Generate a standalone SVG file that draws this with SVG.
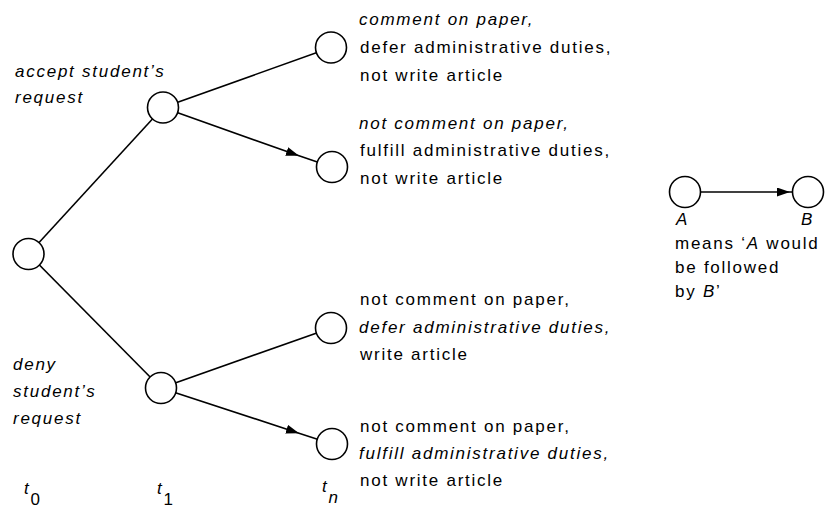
<svg xmlns="http://www.w3.org/2000/svg" width="829" height="511" viewBox="0 0 829 511">
<style>
.n{fill:#fff;stroke:#000;stroke-width:1.6}
.c{fill:none;stroke:#000;stroke-width:1.6}
text{font-family:"Liberation Sans",Arial,sans-serif;font-size:17px;letter-spacing:1.75px;fill:#000}
.i{font-style:italic}
</style>
<defs>
<marker id="ah" markerUnits="userSpaceOnUse" markerWidth="15" markerHeight="10" refX="13" refY="4.5" orient="auto">
<path d="M0,0 L13,4.5 L0,9 z" fill="#000"/>
</marker>
</defs>
<rect width="829" height="511" fill="#fff"/>
<g id="connectors">
<line class="c" x1="28.5" y1="254" x2="163" y2="107.5"/>
<line class="c" x1="28.5" y1="254" x2="161" y2="388"/>
<line class="c" x1="163" y1="107.5" x2="331" y2="47.5"/>
<path class="c" d="M163,107.5 L299,155.8 L332,167" marker-mid="url(#ah)"/>
<line class="c" x1="161" y1="388" x2="331" y2="328"/>
<path class="c" d="M161,388 L299,433.2 L332,444" marker-mid="url(#ah)"/>
<path class="c" d="M685,192 L790,192 L808,192" marker-mid="url(#ah)"/>
</g>
<g id="t0-node"><circle class="n" cx="28.5" cy="254" r="15.5"/></g>
<g id="accept-node"><circle class="n" cx="163" cy="107.5" r="15.5"/>
<text class="i" x="15" y="77">accept student’s</text>
<text class="i" x="15" y="103">request</text></g>
<g id="deny-node"><circle class="n" cx="161" cy="388" r="15.5"/>
<text class="i" x="13" y="370">deny</text>
<text class="i" x="13" y="397">student’s</text>
<text class="i" x="13" y="424">request</text></g>
<g id="outcome1"><circle class="n" cx="331" cy="47.5" r="15.5"/>
<text class="i" x="359" y="25">comment on paper,</text>
<text x="360" y="53">defer administrative duties,</text>
<text x="360" y="81">not write article</text></g>
<g id="outcome2"><circle class="n" cx="332" cy="167" r="15.5"/>
<text class="i" x="359" y="129">not comment on paper,</text>
<text x="360" y="156">fulfill administrative duties,</text>
<text x="360" y="184">not write article</text></g>
<g id="outcome3"><circle class="n" cx="331" cy="328" r="15.5"/>
<text x="360" y="305">not comment on paper,</text>
<text class="i" x="359" y="333">defer administrative duties,</text>
<text x="360" y="360">write article</text></g>
<g id="outcome4"><circle class="n" cx="332" cy="444" r="15.5"/>
<text x="360" y="432">not comment on paper,</text>
<text class="i" x="359" y="459">fulfill administrative duties,</text>
<text x="360" y="486">not write article</text></g>
<g id="time-labels">
<text x="24" y="494"><tspan class="i">t</tspan><tspan dy="11">0</tspan></text>
<text x="157" y="494"><tspan class="i">t</tspan><tspan dy="11">1</tspan></text>
<text x="322" y="492"><tspan class="i">t</tspan><tspan class="i" dy="11">n</tspan></text>
</g>
<g id="legend-A"><circle class="n" cx="685" cy="192" r="15.5"/>
<text class="i" x="676" y="225">A</text></g>
<g id="legend-B"><circle class="n" cx="808" cy="192" r="15.5"/>
<text class="i" x="801" y="225">B</text></g>
<g id="legend-text">
<text x="675" y="249">means ‘<tspan class="i">A</tspan> would</text>
<text x="675" y="273">be followed</text>
<text x="675" y="297">by <tspan class="i">B</tspan>’</text>
</g>
</svg>
